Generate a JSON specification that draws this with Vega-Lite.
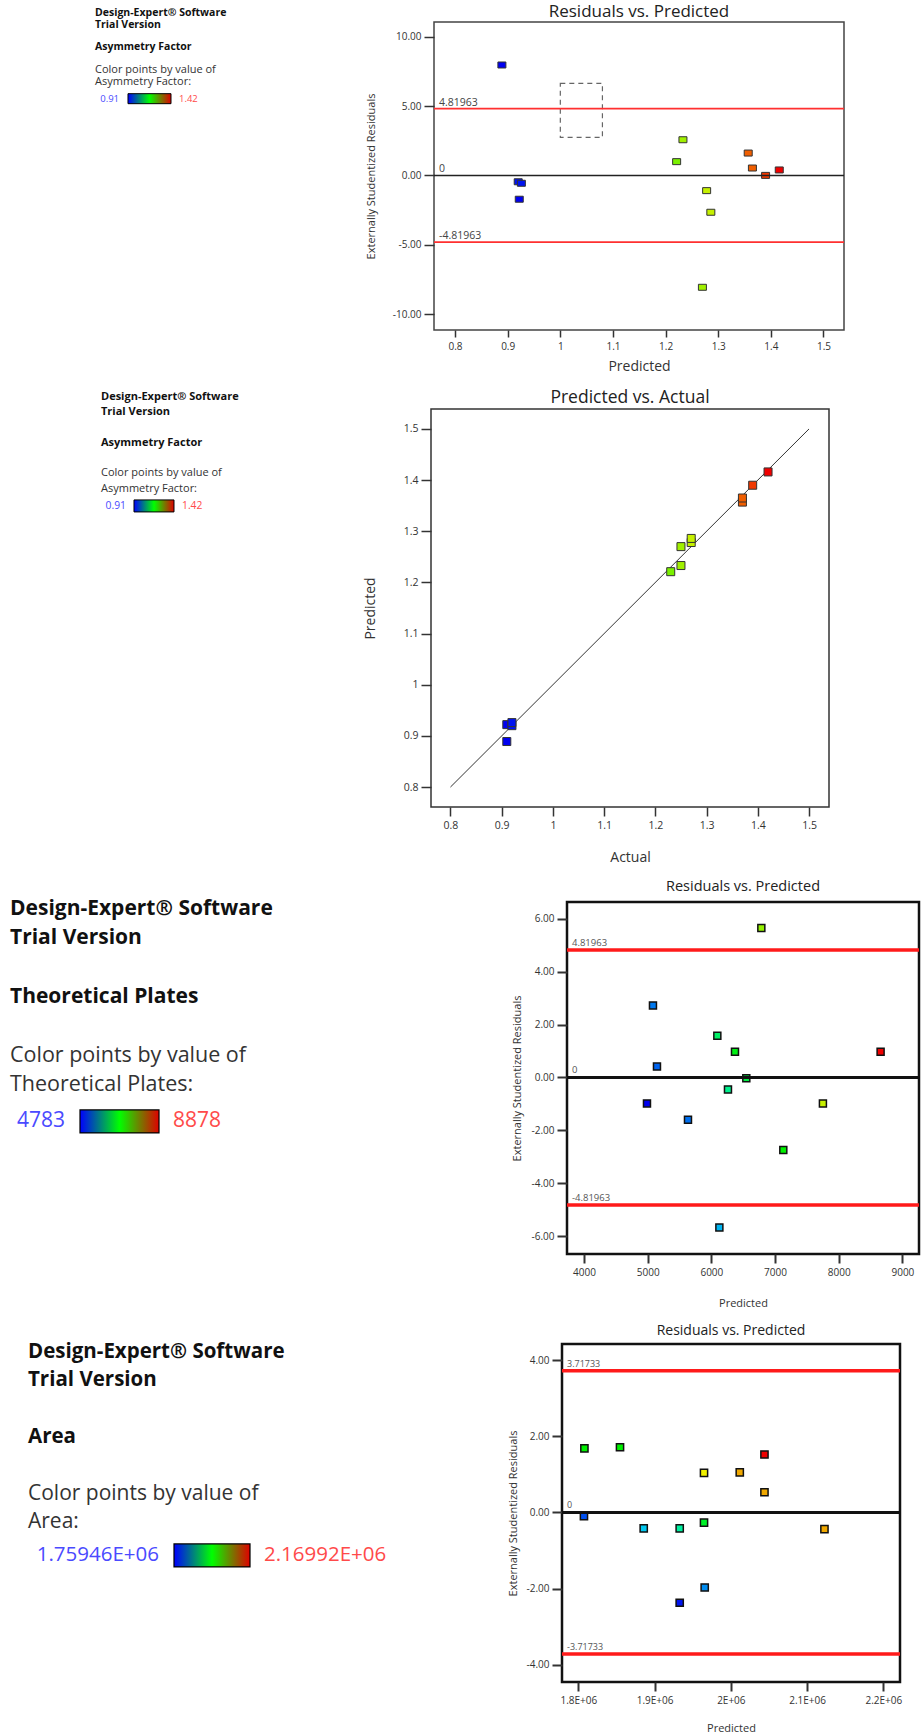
{
 "$schema": "https://vega.github.io/schema/vega-lite/v6.json",
 "background": "white",
 "padding": {"left": 0, "top": 2, "right": 0, "bottom": 0},
 "config": {
  "font": "Open Sans",
  "locale": {"number": {"decimal": ".", "thousands": ",", "grouping": [3], "currency": ["$", ""], "minus": "-"}},
  "axis": {"grid": false, "domain": false, "tickColor": "#333", "tickWidth": 1.5, "labelColor": "#333", "titleColor": "#333", "titleFontWeight": "normal", "labelFont": "Open Sans", "titleFont": "Open Sans", "labelFlush": false, "labelOverlap": false},
  "title": {"font": "Open Sans", "fontWeight": "normal", "color": "#222", "frame": "group", "anchor": "middle", "baseline": "alphabetic"},
  "view": {"stroke": null}
 },
 "datasets": {
  "textAsym": [
   {"role": "head", "line": 1, "text": "Design-Expert® Software"},
   {"role": "head", "line": 2, "text": "Trial Version"},
   {"role": "head", "line": 4, "text": "Asymmetry Factor"},
   {"role": "body", "line": 6, "text": "Color points by value of"},
   {"role": "body", "line": 7, "text": "Asymmetry Factor:"}
  ],
  "textPlates": [
   {"role": "head", "line": 1, "text": "Design-Expert® Software"},
   {"role": "head", "line": 2, "text": "Trial Version"},
   {"role": "head", "line": 4, "text": "Theoretical Plates"},
   {"role": "body", "line": 6, "text": "Color points by value of"},
   {"role": "body", "line": 7, "text": "Theoretical Plates:"}
  ],
  "textArea": [
   {"role": "head", "line": 1, "text": "Design-Expert® Software"},
   {"role": "head", "line": 2, "text": "Trial Version"},
   {"role": "head", "line": 4, "text": "Area"},
   {"role": "body", "line": 6, "text": "Color points by value of"},
   {"role": "body", "line": 7, "text": "Area:"}
  ],
  "legAsym": [{"min": 0.91, "max": 1.42, "minLabel": "0.91", "maxLabel": "1.42"}],
  "legPlates": [{"min": 4783, "max": 8878, "minLabel": "4783", "maxLabel": "8878"}],
  "legArea": [{"min": 1759460, "max": 2169920, "minLabel": "1.75946E+06", "maxLabel": "2.16992E+06"}],
  "asym": [
   {"actual": 0.91, "predicted": 0.889, "resid": 7.96},
   {"actual": 0.91, "predicted": 0.922, "resid": -1.72},
   {"actual": 0.92, "predicted": 0.920, "resid": -0.46},
   {"actual": 0.92, "predicted": 0.926, "resid": -0.57},
   {"actual": 1.23, "predicted": 1.221, "resid": 0.99},
   {"actual": 1.25, "predicted": 1.233, "resid": 2.57},
   {"actual": 1.25, "predicted": 1.270, "resid": -8.07},
   {"actual": 1.27, "predicted": 1.278, "resid": -1.10},
   {"actual": 1.27, "predicted": 1.286, "resid": -2.66},
   {"actual": 1.37, "predicted": 1.357, "resid": 1.61},
   {"actual": 1.37, "predicted": 1.365, "resid": 0.53},
   {"actual": 1.39, "predicted": 1.390, "resid": 0.0},
   {"actual": 1.42, "predicted": 1.416, "resid": 0.39}
  ],
  "plates": [
   {"predicted": 6785, "resid": 5.65, "actual": 7460},
   {"predicted": 5083, "resid": 2.72, "actual": 5300},
   {"predicted": 6094, "resid": 1.58, "actual": 6400},
   {"predicted": 6371, "resid": 0.97, "actual": 6750},
   {"predicted": 8658, "resid": 0.97, "actual": 8878},
   {"predicted": 5146, "resid": 0.41, "actual": 5210},
   {"predicted": 6549, "resid": -0.03, "actual": 6549},
   {"predicted": 6261, "resid": -0.45, "actual": 6230},
   {"predicted": 4989, "resid": -0.98, "actual": 4783},
   {"predicted": 7752, "resid": -0.98, "actual": 7680},
   {"predicted": 5633, "resid": -1.60, "actual": 5260},
   {"predicted": 7130, "resid": -2.74, "actual": 6830},
   {"predicted": 6126, "resid": -5.67, "actual": 5550}
  ],
  "area": [
   {"predicted": 1807900, "resid": 1.68, "actual": 1964700},
   {"predicted": 1854600, "resid": 1.71, "actual": 1964700},
   {"predicted": 1964800, "resid": 1.04, "actual": 2067300},
   {"predicted": 2011700, "resid": 1.05, "actual": 2098100},
   {"predicted": 2044100, "resid": 1.52, "actual": 2169920},
   {"predicted": 2044100, "resid": 0.53, "actual": 2098100},
   {"predicted": 1807300, "resid": -0.10, "actual": 1793700},
   {"predicted": 1885700, "resid": -0.42, "actual": 1844900},
   {"predicted": 1932900, "resid": -0.42, "actual": 1896300},
   {"predicted": 1964800, "resid": -0.27, "actual": 1947600},
   {"predicted": 2122800, "resid": -0.44, "actual": 2098100},
   {"predicted": 1965700, "resid": -1.97, "actual": 1819300},
   {"predicted": 1932900, "resid": -2.37, "actual": 1768000}
  ],
  "lim48": [
   {"y": 4.81963, "label": "4.81963", "kind": "limit"},
   {"y": 0, "label": "0", "kind": "zero"},
   {"y": -4.81963, "label": "-4.81963", "kind": "limit"}
  ],
  "lim37": [
   {"y": 3.71733, "label": "3.71733", "kind": "limit"},
   {"y": 0, "label": "0", "kind": "zero"},
   {"y": -3.71733, "label": "-3.71733", "kind": "limit"}
  ],
  "selbox": [{"x1": 1.0, "x2": 1.08, "y1": 2.74, "y2": 6.64}],
  "diag": [{"v": 0.8}, {"v": 1.5}]
 },
 "spacing": 0,
 "resolve": {"scale": {"color": "independent"}},
 "vconcat": [
  {
   "spacing": 0, "bounds": "flush",
   "resolve": {"scale": {"color": "independent"}},
   "hconcat": [
    {
     "width": 434, "height": 365, "view": {"stroke": null},
     "layer": [
      {"data": {"name": "textAsym"}, "transform": [{"filter": "datum.role == 'head'"}],
       "mark": {"type": "text", "align": "left", "baseline": "middle", "fontWeight": "bold", "fontSize": 10.5, "color": "#111"},
       "encoding": {"x": {"datum": 0.5186, "type": "quantitative", "scale": {"domain": [-0.6081, 4.5393], "nice": false, "zero": false}, "axis": null},
        "y": {"field": "line", "type": "quantitative", "scale": {"domain": [1.7826, 33.522], "nice": false, "zero": false, "reverse": true}, "axis": null},
        "text": {"field": "text"}}},
      {"data": {"name": "textAsym"}, "transform": [{"filter": "datum.role == 'body'"}],
       "mark": {"type": "text", "align": "left", "baseline": "middle", "fontSize": 11, "color": "#333"},
       "encoding": {"x": {"datum": 0.5186, "type": "quantitative", "scale": {"domain": [-0.6081, 4.5393], "nice": false, "zero": false}, "axis": null},
        "y": {"field": "line", "type": "quantitative", "scale": {"domain": [1.7826, 33.522], "nice": false, "zero": false, "reverse": true}, "axis": null},
        "text": {"field": "text"}}},
      {"data": {"name": "legAsym"},
       "mark": {"type": "rect", "height": 10, "stroke": "#000", "strokeWidth": 1, "fill": {"gradient": "linear", "stops": [{"offset": 0, "color": "#0000ff"}, {"offset": 0.5, "color": "#00ff00"}, {"offset": 1, "color": "#e00000"}]}},
       "encoding": {"x": {"field": "min", "type": "quantitative", "scale": {"domain": [-0.6081, 4.5393], "nice": false, "zero": false}, "axis": null},
        "x2": {"field": "max"},
        "y": {"datum": 8.45, "type": "quantitative", "scale": {"domain": [1.7826, 33.522], "nice": false, "zero": false, "reverse": true}, "axis": null}}},
      {"data": {"name": "legAsym"},
       "mark": {"type": "text", "align": "right", "baseline": "middle", "dx": -9, "fontSize": 9.5, "color": "#4a4aff"},
       "encoding": {"x": {"field": "min", "type": "quantitative", "scale": {"domain": [-0.6081, 4.5393], "nice": false, "zero": false}, "axis": null},
        "y": {"datum": 8.45, "type": "quantitative", "scale": {"domain": [1.7826, 33.522], "nice": false, "zero": false, "reverse": true}, "axis": null},
        "text": {"field": "minLabel"}}},
      {"data": {"name": "legAsym"},
       "mark": {"type": "text", "align": "left", "baseline": "middle", "dx": 8, "fontSize": 9.5, "color": "#ff4a4a"},
       "encoding": {"x": {"field": "max", "type": "quantitative", "scale": {"domain": [-0.6081, 4.5393], "nice": false, "zero": false}, "axis": null},
        "y": {"datum": 8.45, "type": "quantitative", "scale": {"domain": [1.7826, 33.522], "nice": false, "zero": false, "reverse": true}, "axis": null},
        "text": {"field": "maxLabel"}}}
     ]
    },
    {
     "width": 410, "height": 308,
     "view": {"stroke": "#444", "strokeWidth": 1.5},
     "title": {"text": "Residuals vs. Predicted", "fontSize": 17, "offset": 1},
     "layer": [
      {"data": {"name": "selbox"},
       "mark": {"type": "rect", "fillOpacity": 0, "stroke": "#666", "strokeDash": [5, 4], "strokeWidth": 1.2},
       "encoding": {"x": {"field": "x1", "type": "quantitative", "title": "Predicted", "scale": {"domain": [0.760, 1.539], "nice": false, "zero": false}},
        "x2": {"field": "x2"},
        "y": {"field": "y1", "type": "quantitative", "title": "Externally Studentized Residuals", "scale": {"domain": [-11.15, 11.06], "nice": false, "zero": false}},
        "y2": {"field": "y2"}}},
      {"data": {"name": "asym"},
       "mark": {"type": "point", "shape": "M-1,-0.75H1V0.75H-1Z", "filled": true, "size": 64, "stroke": "#333", "strokeWidth": 1, "opacity": 1},
       "encoding": {"x": {"field": "predicted", "type": "quantitative", "title": "Predicted", "scale": {"domain": [0.760, 1.539], "nice": false, "zero": false},
         "axis": {"values": [0.8, 0.9, 1, 1.1, 1.2, 1.3, 1.4, 1.5], "format": "~g", "tickSize": 7, "labelFontSize": 10, "labelPadding": 4, "titleFontSize": 14, "titlePadding": 8}},
        "y": {"field": "resid", "type": "quantitative", "title": "Externally Studentized Residuals", "scale": {"domain": [-11.15, 11.06], "nice": false, "zero": false},
         "axis": {"values": [-10, -5, 0, 5, 10], "format": ".2f", "tickSize": 10, "labelFontSize": 10, "labelPadding": 3, "titleFontSize": 11, "titlePadding": 16}},
        "color": {"field": "actual", "type": "quantitative", "legend": null, "scale": {"type": "linear", "domain": [0.91, 1.42], "range": ["hsl(240,100%,47%)", "hsl(0,100%,47%)"], "interpolate": "hsl-long"}}}},
      {"data": {"name": "lim48"}, "transform": [{"filter": "datum.kind == 'limit'"}],
       "mark": {"type": "rule", "color": "#ff3030", "strokeWidth": 1.8},
       "encoding": {"y": {"field": "y", "type": "quantitative", "title": "Externally Studentized Residuals", "scale": {"domain": [-11.15, 11.06], "nice": false, "zero": false}}}},
      {"data": {"name": "lim48"}, "transform": [{"filter": "datum.kind == 'zero'"}],
       "mark": {"type": "rule", "color": "#222", "strokeWidth": 1.5},
       "encoding": {"y": {"field": "y", "type": "quantitative", "title": "Externally Studentized Residuals", "scale": {"domain": [-11.15, 11.06], "nice": false, "zero": false}}}},
      {"data": {"name": "lim48"},
       "mark": {"type": "text", "align": "left", "baseline": "bottom", "dx": 5, "dy": -1, "fontSize": 10.5, "color": "#444"},
       "encoding": {"x": {"datum": 0.760, "type": "quantitative", "title": "Predicted", "scale": {"domain": [0.760, 1.539], "nice": false, "zero": false}},
        "y": {"field": "y", "type": "quantitative", "title": "Externally Studentized Residuals", "scale": {"domain": [-11.15, 11.06], "nice": false, "zero": false}},
        "text": {"field": "label"}}}
     ]
    }
   ]
  },
  {
   "spacing": 0, "bounds": "flush",
   "resolve": {"scale": {"color": "independent"}},
   "hconcat": [
    {
     "width": 431, "height": 468, "view": {"stroke": null},
     "layer": [
      {"data": {"name": "textAsym"}, "transform": [{"filter": "datum.role == 'head'"}],
       "mark": {"type": "text", "align": "left", "baseline": "middle", "fontWeight": "bold", "fontSize": 11, "color": "#111"},
       "encoding": {"x": {"datum": 0.4892, "type": "quantitative", "scale": {"domain": [-0.7985, 4.6968], "nice": false, "zero": false}, "axis": null},
        "y": {"field": "line", "type": "quantitative", "scale": {"domain": [1.7843, 32.373], "nice": false, "zero": false, "reverse": true}, "axis": null},
        "text": {"field": "text"}}},
      {"data": {"name": "textAsym"}, "transform": [{"filter": "datum.role == 'body'"}],
       "mark": {"type": "text", "align": "left", "baseline": "middle", "fontSize": 11, "color": "#333"},
       "encoding": {"x": {"datum": 0.4892, "type": "quantitative", "scale": {"domain": [-0.7985, 4.6968], "nice": false, "zero": false}, "axis": null},
        "y": {"field": "line", "type": "quantitative", "scale": {"domain": [1.7843, 32.373], "nice": false, "zero": false, "reverse": true}, "axis": null},
        "text": {"field": "text"}}},
      {"data": {"name": "legAsym"},
       "mark": {"type": "rect", "height": 12, "stroke": "#000", "strokeWidth": 1, "fill": {"gradient": "linear", "stops": [{"offset": 0, "color": "#0000ff"}, {"offset": 0.5, "color": "#00ff00"}, {"offset": 1, "color": "#e00000"}]}},
       "encoding": {"x": {"field": "min", "type": "quantitative", "scale": {"domain": [-0.7985, 4.6968], "nice": false, "zero": false}, "axis": null},
        "x2": {"field": "max"},
        "y": {"datum": 8.12, "type": "quantitative", "scale": {"domain": [1.7843, 32.373], "nice": false, "zero": false, "reverse": true}, "axis": null}}},
      {"data": {"name": "legAsym"},
       "mark": {"type": "text", "align": "right", "baseline": "middle", "dx": -8, "fontSize": 10.3, "color": "#4a4aff"},
       "encoding": {"x": {"field": "min", "type": "quantitative", "scale": {"domain": [-0.7985, 4.6968], "nice": false, "zero": false}, "axis": null},
        "y": {"datum": 8.12, "type": "quantitative", "scale": {"domain": [1.7843, 32.373], "nice": false, "zero": false, "reverse": true}, "axis": null},
        "text": {"field": "minLabel"}}},
      {"data": {"name": "legAsym"},
       "mark": {"type": "text", "align": "left", "baseline": "middle", "dx": 8, "fontSize": 10.3, "color": "#ff4a4a"},
       "encoding": {"x": {"field": "max", "type": "quantitative", "scale": {"domain": [-0.7985, 4.6968], "nice": false, "zero": false}, "axis": null},
        "y": {"datum": 8.12, "type": "quantitative", "scale": {"domain": [1.7843, 32.373], "nice": false, "zero": false, "reverse": true}, "axis": null},
        "text": {"field": "maxLabel"}}}
     ]
    },
    {
     "width": 398, "height": 398,
     "view": {"stroke": "#333", "strokeWidth": 1.5},
     "title": {"text": "Predicted vs. Actual", "fontSize": 17.5, "offset": 3},
     "layer": [
      {"data": {"name": "diag"},
       "mark": {"type": "line", "color": "#333", "strokeWidth": 1},
       "encoding": {"x": {"field": "v", "type": "quantitative", "title": "Actual", "scale": {"domain": [0.762, 1.539], "nice": false, "zero": false}},
        "y": {"field": "v", "type": "quantitative", "title": "Predicted", "scale": {"domain": [0.761, 1.539], "nice": false, "zero": false}}}},
      {"data": {"name": "asym"},
       "mark": {"type": "point", "shape": "square", "filled": true, "size": 64, "stroke": "#333", "strokeWidth": 1, "opacity": 1},
       "encoding": {"x": {"field": "actual", "type": "quantitative", "title": "Actual", "scale": {"domain": [0.762, 1.539], "nice": false, "zero": false},
         "axis": {"values": [0.8, 0.9, 1, 1.1, 1.2, 1.3, 1.4, 1.5], "format": "~g", "tickSize": 9, "labelFontSize": 10.5, "labelPadding": 4, "titleFontSize": 14, "titlePadding": 20}},
        "y": {"field": "predicted", "type": "quantitative", "title": "Predicted", "scale": {"domain": [0.761, 1.539], "nice": false, "zero": false},
         "axis": {"values": [0.8, 0.9, 1, 1.1, 1.2, 1.3, 1.4, 1.5], "format": "~g", "tickSize": 10, "labelFontSize": 10.5, "labelPadding": 3, "titleFontSize": 14, "titlePadding": 26}},
        "color": {"field": "actual", "type": "quantitative", "legend": null, "scale": {"type": "linear", "domain": [0.91, 1.42], "range": ["hsl(240,100%,47%)", "hsl(0,100%,47%)"], "interpolate": "hsl-long"}}}}
     ]
    }
   ]
  },
  {
   "spacing": 0, "bounds": "flush",
   "resolve": {"scale": {"color": "independent"}},
   "hconcat": [
    {
     "width": 567, "height": 420, "view": {"stroke": null},
     "layer": [
      {"data": {"name": "textPlates"}, "transform": [{"filter": "datum.role == 'head'"}],
       "mark": {"type": "text", "align": "left", "baseline": "middle", "fontWeight": "bold", "fontSize": 21, "color": "#111"},
       "encoding": {"x": {"datum": 1154.5, "type": "quantitative", "scale": {"domain": [636.2, 30026.6], "nice": false, "zero": false}, "axis": null},
        "y": {"field": "line", "type": "quantitative", "scale": {"domain": [0.7611, 15.095], "nice": false, "zero": false, "reverse": true}, "axis": null},
        "text": {"field": "text"}}},
      {"data": {"name": "textPlates"}, "transform": [{"filter": "datum.role == 'body'"}],
       "mark": {"type": "text", "align": "left", "baseline": "middle", "fontSize": 21.5, "color": "#333"},
       "encoding": {"x": {"datum": 1154.5, "type": "quantitative", "scale": {"domain": [636.2, 30026.6], "nice": false, "zero": false}, "axis": null},
        "y": {"field": "line", "type": "quantitative", "scale": {"domain": [0.7611, 15.095], "nice": false, "zero": false, "reverse": true}, "axis": null},
        "text": {"field": "text"}}},
      {"data": {"name": "legPlates"},
       "mark": {"type": "rect", "height": 23, "stroke": "#000", "strokeWidth": 1.2, "fill": {"gradient": "linear", "stops": [{"offset": 0, "color": "#0000ff"}, {"offset": 0.5, "color": "#00ff00"}, {"offset": 1, "color": "#e00000"}]}},
       "encoding": {"x": {"field": "min", "type": "quantitative", "scale": {"domain": [636.2, 30026.6], "nice": false, "zero": false}, "axis": null},
        "x2": {"field": "max"},
        "y": {"datum": 8.25, "type": "quantitative", "scale": {"domain": [0.7611, 15.095], "nice": false, "zero": false, "reverse": true}, "axis": null}}},
      {"data": {"name": "legPlates"},
       "mark": {"type": "text", "align": "right", "baseline": "middle", "dx": -15, "fontSize": 21, "color": "#4a4aff"},
       "encoding": {"x": {"field": "min", "type": "quantitative", "scale": {"domain": [636.2, 30026.6], "nice": false, "zero": false}, "axis": null},
        "y": {"datum": 8.25, "type": "quantitative", "scale": {"domain": [0.7611, 15.095], "nice": false, "zero": false, "reverse": true}, "axis": null},
        "text": {"field": "minLabel"}}},
      {"data": {"name": "legPlates"},
       "mark": {"type": "text", "align": "left", "baseline": "middle", "dx": 14, "fontSize": 21, "color": "#ff4a4a"},
       "encoding": {"x": {"field": "max", "type": "quantitative", "scale": {"domain": [636.2, 30026.6], "nice": false, "zero": false}, "axis": null},
        "y": {"datum": 8.25, "type": "quantitative", "scale": {"domain": [0.7611, 15.095], "nice": false, "zero": false, "reverse": true}, "axis": null},
        "text": {"field": "maxLabel"}}}
     ]
    },
    {
     "width": 352, "height": 352,
     "view": {"stroke": "#111", "strokeWidth": 2.5},
     "title": {"text": "Residuals vs. Predicted", "fontSize": 14.5, "offset": 8},
     "layer": [
      {"data": {"name": "plates"},
       "mark": {"type": "point", "shape": "square", "filled": true, "size": 49, "stroke": "#111", "strokeWidth": 1.5, "opacity": 1},
       "encoding": {"x": {"field": "predicted", "type": "quantitative", "title": "Predicted", "scale": {"domain": [3733, 9261], "nice": false, "zero": false},
         "axis": {"values": [4000, 5000, 6000, 7000, 8000, 9000], "format": "d", "tickSize": 9, "tickWidth": 2, "labelFontSize": 10, "labelPadding": 4, "titleFontSize": 11, "titlePadding": 20}},
        "y": {"field": "resid", "type": "quantitative", "title": "Externally Studentized Residuals", "scale": {"domain": [-6.67, 6.63], "nice": false, "zero": false},
         "axis": {"values": [-6, -4, -2, 0, 2, 4, 6], "format": ".2f", "tickSize": 10, "tickWidth": 2, "labelFontSize": 10, "labelPadding": 3, "titleFontSize": 11, "titlePadding": 9}},
        "color": {"field": "actual", "type": "quantitative", "legend": null, "scale": {"type": "linear", "domain": [4783, 8878], "range": ["hsl(240,100%,47%)", "hsl(0,100%,47%)"], "interpolate": "hsl-long"}}}},
      {"data": {"name": "lim48"}, "transform": [{"filter": "datum.kind == 'limit'"}],
       "mark": {"type": "rule", "color": "#ff1a1a", "strokeWidth": 3.5},
       "encoding": {"y": {"field": "y", "type": "quantitative", "title": "Externally Studentized Residuals", "scale": {"domain": [-6.67, 6.63], "nice": false, "zero": false}}}},
      {"data": {"name": "lim48"}, "transform": [{"filter": "datum.kind == 'zero'"}],
       "mark": {"type": "rule", "color": "#111", "strokeWidth": 3},
       "encoding": {"y": {"field": "y", "type": "quantitative", "title": "Externally Studentized Residuals", "scale": {"domain": [-6.67, 6.63], "nice": false, "zero": false}}}},
      {"data": {"name": "lim48"},
       "mark": {"type": "text", "align": "left", "baseline": "bottom", "dx": 5, "dy": -2, "fontSize": 9.5, "color": "#555"},
       "encoding": {"x": {"datum": 3733, "type": "quantitative", "title": "Predicted", "scale": {"domain": [3733, 9261], "nice": false, "zero": false}},
        "y": {"field": "y", "type": "quantitative", "title": "Externally Studentized Residuals", "scale": {"domain": [-6.67, 6.63], "nice": false, "zero": false}},
        "text": {"field": "label"}}}
     ]
    }
   ]
  },
  {
   "spacing": 0, "bounds": "flush",
   "resolve": {"scale": {"color": "independent"}},
   "hconcat": [
    {
     "width": 562, "height": 338, "view": {"stroke": null},
     "layer": [
      {"data": {"name": "textArea"}, "transform": [{"filter": "datum.role == 'head'"}],
       "mark": {"type": "text", "align": "left", "baseline": "middle", "fontWeight": "bold", "fontSize": 20.5, "color": "#111"},
       "encoding": {"x": {"datum": 970943, "type": "quantitative", "scale": {"domain": [819721, 3854970], "nice": false, "zero": false}, "axis": null},
        "y": {"field": "line", "type": "quantitative", "scale": {"domain": [0.7176, 12.648], "nice": false, "zero": false, "reverse": true}, "axis": null},
        "text": {"field": "text"}}},
      {"data": {"name": "textArea"}, "transform": [{"filter": "datum.role == 'body'"}],
       "mark": {"type": "text", "align": "left", "baseline": "middle", "fontSize": 21, "color": "#333"},
       "encoding": {"x": {"datum": 970943, "type": "quantitative", "scale": {"domain": [819721, 3854970], "nice": false, "zero": false}, "axis": null},
        "y": {"field": "line", "type": "quantitative", "scale": {"domain": [0.7176, 12.648], "nice": false, "zero": false, "reverse": true}, "axis": null},
        "text": {"field": "text"}}},
      {"data": {"name": "legArea"},
       "mark": {"type": "rect", "height": 23, "stroke": "#000", "strokeWidth": 1.2, "fill": {"gradient": "linear", "stops": [{"offset": 0, "color": "#0000ff"}, {"offset": 0.5, "color": "#00ff00"}, {"offset": 1, "color": "#e00000"}]}},
       "encoding": {"x": {"field": "min", "type": "quantitative", "scale": {"domain": [819721, 3854970], "nice": false, "zero": false}, "axis": null},
        "x2": {"field": "max"},
        "y": {"datum": 8.18, "type": "quantitative", "scale": {"domain": [0.7176, 12.648], "nice": false, "zero": false, "reverse": true}, "axis": null}}},
      {"data": {"name": "legArea"},
       "mark": {"type": "text", "align": "right", "baseline": "middle", "dx": -15, "fontSize": 20.5, "color": "#4a4aff"},
       "encoding": {"x": {"field": "min", "type": "quantitative", "scale": {"domain": [819721, 3854970], "nice": false, "zero": false}, "axis": null},
        "y": {"datum": 8.18, "type": "quantitative", "scale": {"domain": [0.7176, 12.648], "nice": false, "zero": false, "reverse": true}, "axis": null},
        "text": {"field": "minLabel"}}},
      {"data": {"name": "legArea"},
       "mark": {"type": "text", "align": "left", "baseline": "middle", "dx": 14, "fontSize": 20.5, "color": "#ff4a4a"},
       "encoding": {"x": {"field": "max", "type": "quantitative", "scale": {"domain": [819721, 3854970], "nice": false, "zero": false}, "axis": null},
        "y": {"datum": 8.18, "type": "quantitative", "scale": {"domain": [0.7176, 12.648], "nice": false, "zero": false, "reverse": true}, "axis": null},
        "text": {"field": "maxLabel"}}}
     ]
    },
    {
     "width": 338, "height": 338,
     "view": {"stroke": "#111", "strokeWidth": 2.5},
     "title": {"text": "Residuals vs. Predicted", "fontSize": 14, "offset": 6},
     "layer": [
      {"data": {"name": "area"},
       "mark": {"type": "point", "shape": "square", "filled": true, "size": 52, "stroke": "#111", "strokeWidth": 1.5, "opacity": 1},
       "encoding": {"x": {"field": "predicted", "type": "quantitative", "title": "Predicted", "scale": {"domain": [1778500, 2221900], "nice": false, "zero": false},
         "axis": {"values": [1800000, 1900000, 2000000, 2100000, 2200000], "labelExpr": "(datum.value / 1000000) + 'E+06'", "tickSize": 9, "tickWidth": 2, "labelFontSize": 10, "labelPadding": 4, "titleFontSize": 11, "titlePadding": 17}},
        "y": {"field": "resid", "type": "quantitative", "title": "Externally Studentized Residuals", "scale": {"domain": [-4.45, 4.42], "nice": false, "zero": false},
         "axis": {"values": [-4, -2, 0, 2, 4], "format": ".2f", "tickSize": 10, "tickWidth": 2, "labelFontSize": 10, "labelPadding": 3, "titleFontSize": 11, "titlePadding": 8}},
        "color": {"field": "actual", "type": "quantitative", "legend": null, "scale": {"type": "linear", "domain": [1759460, 2169920], "range": ["hsl(240,100%,47%)", "hsl(0,100%,47%)"], "interpolate": "hsl-long"}}}},
      {"data": {"name": "lim37"}, "transform": [{"filter": "datum.kind == 'limit'"}],
       "mark": {"type": "rule", "color": "#ff1a1a", "strokeWidth": 3.5},
       "encoding": {"y": {"field": "y", "type": "quantitative", "title": "Externally Studentized Residuals", "scale": {"domain": [-4.45, 4.42], "nice": false, "zero": false}}}},
      {"data": {"name": "lim37"}, "transform": [{"filter": "datum.kind == 'zero'"}],
       "mark": {"type": "rule", "color": "#111", "strokeWidth": 3},
       "encoding": {"y": {"field": "y", "type": "quantitative", "title": "Externally Studentized Residuals", "scale": {"domain": [-4.45, 4.42], "nice": false, "zero": false}}}},
      {"data": {"name": "lim37"},
       "mark": {"type": "text", "align": "left", "baseline": "bottom", "dx": 5, "dy": -2, "fontSize": 9, "color": "#555"},
       "encoding": {"x": {"datum": 1778500, "type": "quantitative", "title": "Predicted", "scale": {"domain": [1778500, 2221900], "nice": false, "zero": false}},
        "y": {"field": "y", "type": "quantitative", "title": "Externally Studentized Residuals", "scale": {"domain": [-4.45, 4.42], "nice": false, "zero": false}},
        "text": {"field": "label"}}}
     ]
    }
   ]
  }
 ]
}
